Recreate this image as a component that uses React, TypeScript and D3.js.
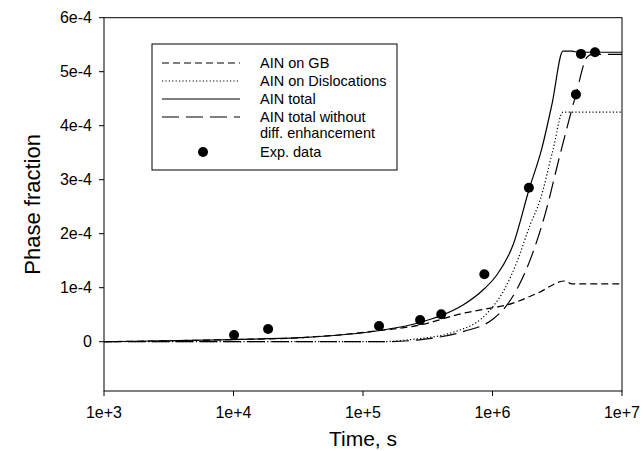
import React from 'react';
import * as d3 from 'd3';

// values (time in s, phase fraction)
const gbTime = [1e3, 1e4, 3.26e4, 1.35e5, 2.76e5, 5.92e5, 1.01e6, 1.294e6, 2.21e6, 3.63e6, 4.11e6, 1e7];
const gbValue = [0, 0.4e-5, 0.74e-5, 2.07e-5, 3.1e-5, 5.26e-5, 6.3e-5, 6.8e-5, 8.96e-5, 1.124e-4, 1.07e-4, 1.07e-4];

const dislTime = [1e3, 1.35e5, 2.35e5, 5.13e5, 8.15e5, 9.57e5, 1.25e6, 1.545e6, 1.95e6, 2.33e6, 2.93e6, 3.5e6, 1e7];
const dislValue = [0, 0, 0.4e-5, 1.85e-5, 4.2e-5, 5.87e-5, 9.9e-5, 1.48e-4, 2.16e-4, 2.62e-4, 3.55e-4, 4.25e-4, 4.25e-4];

const totalTime = [1e3, 1e4, 3.26e4, 1.35e5, 2.76e5, 4.02e5, 5.92e5, 8.6e5, 1.08e6, 1.44e6, 1.91e6, 2.41e6, 2.88e6, 3.5e6, 4.11e6, 4.6e6, 1e7];
const totalValue = [0, 0.4e-5, 0.74e-5, 2.07e-5, 3.56e-5, 4.85e-5, 6.8e-5, 9.76e-5, 1.235e-4, 1.79e-4, 2.81e-4, 3.59e-4, 4.4e-4, 5.38e-4, 5.38e-4, 5.36e-4, 5.36e-4];

const noEnhTime = [1e3, 1.5e5, 2.9e5, 6e5, 1.01e6, 1.294e6, 1.574e6, 1.95e6, 2.54e6, 3.32e6, 4.41e6, 5.37e6, 5.86e6, 1e7];
const noEnhValue = [0, 0, 0.44e-5, 1.9e-5, 4.2e-5, 6.8e-5, 1.01e-4, 1.51e-4, 2.35e-4, 3.46e-4, 4.58e-4, 5.27e-4, 5.32e-4, 5.32e-4];

const expTime = [1.01e4, 1.85e4, 1.33e5, 2.76e5, 4.02e5, 8.65e5, 1.91e6, 4.41e6, 4.82e6, 6.19e6];
const expValue = [1.24e-5, 2.35e-5, 2.9e-5, 4.0e-5, 5.07e-5, 1.25e-4, 2.85e-4, 4.58e-4, 5.33e-4, 5.36e-4];

const xTicks = [1e3, 1e4, 1e5, 1e6, 1e7];
const xTickLabels = ['1e+3', '1e+4', '1e+5', '1e+6', '1e+7'];
const yTicks = [0, 1e-4, 2e-4, 3e-4, 4e-4, 5e-4, 6e-4];
const yTickLabels = ['0', '1e-4', '2e-4', '3e-4', '4e-4', '5e-4', '6e-4'];

const legendLabels = ['AIN on GB', 'AIN on Dislocations', 'AIN total', 'AIN total without', 'Exp. data'];

const font = '"Liberation Sans", Arial, sans-serif';

export default function App() {
  const width = 643;
  const height = 451;
  const left = 104;
  const right = 622;
  const top = 17.7;
  const bottom = 391;

  const x = d3.scaleLog().domain([1e3, 1e7]).range([left, right]);
  const y = d3.scaleLinear().domain([-0.913e-4, 6e-4]).range([bottom, top]);

  const line = d3.line<[number, number]>()
    .x(d => x(d[0]))
    .y(d => y(d[1]))
    .curve(d3.curveMonotoneX);

  const zip = (t: number[], v: number[]) => t.map((tt, i) => [tt, v[i]] as [number, number]);

  const series = [
    { key: 'gb', data: zip(gbTime, gbValue), dash: '7,4' },
    { key: 'disl', data: zip(dislTime, dislValue), dash: '1.2,2.2' },
    { key: 'total', data: zip(totalTime, totalValue), dash: null },
    { key: 'noenh', data: zip(noEnhTime, noEnhValue), dash: '17,7' },
  ];

  const legendRows = [63, 81, 99, 117];

  return (
    <svg width={width} height={height} style={{ position: 'absolute', left: 0, top: 0, background: '#fff' }}>
      <rect x={0} y={0} width={width} height={height} fill="#fff" />

      {/* curves */}
      <g fill="none" stroke="#000" strokeWidth={1.2}>
        {series.map(s => (
          <path key={s.key} d={line(s.data) || ''} strokeDasharray={s.dash || undefined} />
        ))}
      </g>

      {/* exp data */}
      <g fill="#000">
        {expTime.map((t, i) => (
          <circle key={i} cx={x(t)} cy={y(expValue[i])} r={5} />
        ))}
      </g>

      {/* frame */}
      <rect x={left} y={top} width={right - left} height={bottom - top} fill="none" stroke="#000" strokeWidth={1} />

      {/* y axis */}
      <g fontFamily={font} fontSize={16} fill="#000">
        {yTicks.map((t, i) => (
          <g key={t}>
            <line x1={left - 5} x2={left} y1={y(t)} y2={y(t)} stroke="#000" />
            <text x={left - 12} y={y(t)} dy="0.35em" textAnchor="end">{yTickLabels[i]}</text>
          </g>
        ))}
      </g>

      {/* x axis */}
      <g fontFamily={font} fontSize={16} fill="#000">
        {xTicks.map((t, i) => (
          <g key={t}>
            <line x1={x(t)} x2={x(t)} y1={bottom} y2={bottom + 5} stroke="#000" />
            <text x={x(t)} y={418} textAnchor="middle">{xTickLabels[i]}</text>
          </g>
        ))}
      </g>

      <text x={363} y={446} textAnchor="middle" fontFamily={font} fontSize={21}>Time, s</text>
      <text transform={`translate(40, ${(top + bottom) / 2}) rotate(-90)`} textAnchor="middle" fontFamily={font} fontSize={22}>Phase fraction</text>

      {/* legend */}
      <rect x={152} y={44} width={245} height={126} fill="#fff" stroke="#000" strokeWidth={1} />
      <g fill="none" stroke="#000" strokeWidth={1.2}>
        {series.map((s, i) => (
          <line key={s.key} x1={162} x2={240} y1={legendRows[i]} y2={legendRows[i]} strokeDasharray={s.dash || undefined} />
        ))}
      </g>
      <circle cx={203} cy={152} r={5} fill="#000" />
      <g fontFamily={font} fontSize={14.5} fill="#000">
        {legendRows.map((ry, i) => (
          <text key={i} x={260} y={ry} dy="0.35em">{legendLabels[i]}</text>
        ))}
        <text x={260} y={133} dy="0.35em">diff. enhancement</text>
        <text x={260} y={152} dy="0.35em">{legendLabels[4]}</text>
      </g>
    </svg>
  );
}
